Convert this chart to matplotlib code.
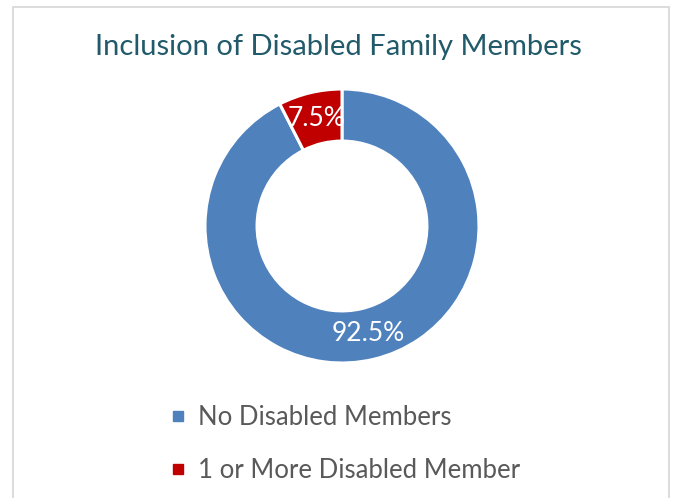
import matplotlib.pyplot as plt
from matplotlib.lines import Line2D
from matplotlib.patches import Rectangle

labels = ["No Disabled Members", "1 or More Disabled Member"]
shares = [92.5, 7.5]
colors = ["#4F81BD", "#C00000"]
title = "Inclusion of Disabled Family Members"

plt.rcParams["font.family"] = ["Lato", "DejaVu Sans"]

W, H = 675, 498
fig = plt.figure(figsize=(W / 100, H / 100), dpi=100)

# chart border (light gray, open at the bottom)
fig.patches.append(Rectangle((13 / W, -0.05), (669 - 13) / W, 1.05 - 7 / H,
                             transform=fig.transFigure, fill=False,
                             edgecolor="#D9D9D9", linewidth=1.3))

cx, cy, r = 342, 226, 137
ax = fig.add_axes([(cx - r) / W, (H - cy - r) / H, 2 * r / W, 2 * r / H])
wedges, _, autotexts = ax.pie(
    shares, colors=colors, startangle=90, counterclock=False,
    autopct="%.1f%%", pctdistance=0.81,
    wedgeprops=dict(width=0.38, edgecolor="white", linewidth=2.2),
    textprops=dict(color="white", fontsize=19),
)
ax.set_xlim(-1, 1)
ax.set_ylim(-1, 1)
ax.set_aspect("equal")
ax.axis("off")

fig.text(0.502, 1 - 47 / H, title, ha="center", va="center",
         fontsize=21, color="#215A6A")

handles = [Line2D([], [], marker="s", linestyle="none", markersize=6.8,
                  markerfacecolor=c, markeredgecolor=c) for c in colors]
fig.legend(handles, labels, loc="upper left", bbox_to_anchor=(170 / W, 1 - 405 / H),
           frameon=False, fontsize=18.5, labelcolor="#595959",
           handlelength=0.6, handletextpad=0.48, labelspacing=1.08,
           borderpad=0, borderaxespad=0)

fig.savefig("out.png", dpi=100)
